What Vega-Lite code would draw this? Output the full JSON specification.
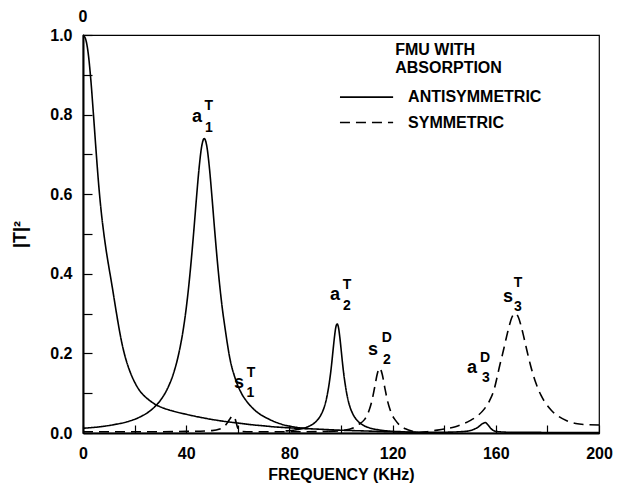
{
  "$schema": "https://vega.github.io/schema/vega-lite/v6.json",
  "width": 516,
  "height": 398,
  "autosize": {"type": "none"},
  "padding": {"left": 83, "top": 35, "right": 18, "bottom": 51},
  "background": "white",
  "config": {
    "view": {"stroke": "black", "strokeWidth": 1.2},
    "font": "Liberation Sans",
    "axis": {
      "domainColor": "black", "domainWidth": 2, "tickColor": "black", "tickWidth": 1.2,
      "labelFont": "Liberation Sans", "labelFontWeight": "bold", "labelFontSize": 16, "labelColor": "black",
      "titleFont": "Liberation Sans", "titleFontWeight": "bold", "titleFontSize": 16, "titleColor": "black",
      "grid": false
    }
  },
  "datasets": {
    "curves": [
      {"series": "A0", "type": "antisymmetric", "f": 0, "t": 1.0},
      {"series": "A0", "type": "antisymmetric", "f": 1, "t": 0.99},
      {"series": "A0", "type": "antisymmetric", "f": 2, "t": 0.955},
      {"series": "A0", "type": "antisymmetric", "f": 3, "t": 0.89},
      {"series": "A0", "type": "antisymmetric", "f": 4, "t": 0.805},
      {"series": "A0", "type": "antisymmetric", "f": 5, "t": 0.715},
      {"series": "A0", "type": "antisymmetric", "f": 6, "t": 0.63},
      {"series": "A0", "type": "antisymmetric", "f": 7, "t": 0.56},
      {"series": "A0", "type": "antisymmetric", "f": 8, "t": 0.505},
      {"series": "A0", "type": "antisymmetric", "f": 9, "t": 0.458},
      {"series": "A0", "type": "antisymmetric", "f": 10, "t": 0.418},
      {"series": "A0", "type": "antisymmetric", "f": 11, "t": 0.38},
      {"series": "A0", "type": "antisymmetric", "f": 12, "t": 0.34},
      {"series": "A0", "type": "antisymmetric", "f": 13, "t": 0.3},
      {"series": "A0", "type": "antisymmetric", "f": 14, "t": 0.262},
      {"series": "A0", "type": "antisymmetric", "f": 15, "t": 0.228},
      {"series": "A0", "type": "antisymmetric", "f": 16, "t": 0.2},
      {"series": "A0", "type": "antisymmetric", "f": 17, "t": 0.177},
      {"series": "A0", "type": "antisymmetric", "f": 18, "t": 0.158},
      {"series": "A0", "type": "antisymmetric", "f": 20, "t": 0.128},
      {"series": "A0", "type": "antisymmetric", "f": 22, "t": 0.106},
      {"series": "A0", "type": "antisymmetric", "f": 25, "t": 0.086},
      {"series": "A0", "type": "antisymmetric", "f": 28, "t": 0.072},
      {"series": "A0", "type": "antisymmetric", "f": 31, "t": 0.063},
      {"series": "A0", "type": "antisymmetric", "f": 35, "t": 0.055},
      {"series": "A0", "type": "antisymmetric", "f": 40, "t": 0.047},
      {"series": "A0", "type": "antisymmetric", "f": 45, "t": 0.04},
      {"series": "A0", "type": "antisymmetric", "f": 50, "t": 0.034},
      {"series": "A0", "type": "antisymmetric", "f": 55, "t": 0.029},
      {"series": "A0", "type": "antisymmetric", "f": 60, "t": 0.025},
      {"series": "A0", "type": "antisymmetric", "f": 65, "t": 0.021},
      {"series": "A0", "type": "antisymmetric", "f": 70, "t": 0.018},
      {"series": "A0", "type": "antisymmetric", "f": 75, "t": 0.015},
      {"series": "A0", "type": "antisymmetric", "f": 80, "t": 0.013},
      {"series": "A0", "type": "antisymmetric", "f": 90, "t": 0.01},
      {"series": "A0", "type": "antisymmetric", "f": 100, "t": 0.007},
      {"series": "A0", "type": "antisymmetric", "f": 110, "t": 0.005},
      {"series": "A0", "type": "antisymmetric", "f": 120, "t": 0.003},
      {"series": "A0", "type": "antisymmetric", "f": 130, "t": 0.002},

      {"series": "A1", "type": "antisymmetric", "f": 0, "t": 0.012},
      {"series": "A1", "type": "antisymmetric", "f": 7, "t": 0.016},
      {"series": "A1", "type": "antisymmetric", "f": 12, "t": 0.021},
      {"series": "A1", "type": "antisymmetric", "f": 17, "t": 0.028},
      {"series": "A1", "type": "antisymmetric", "f": 22, "t": 0.04},
      {"series": "A1", "type": "antisymmetric", "f": 27, "t": 0.061},
      {"series": "A1", "type": "antisymmetric", "f": 30, "t": 0.082},
      {"series": "A1", "type": "antisymmetric", "f": 33, "t": 0.115},
      {"series": "A1", "type": "antisymmetric", "f": 35, "t": 0.148},
      {"series": "A1", "type": "antisymmetric", "f": 37, "t": 0.196},
      {"series": "A1", "type": "antisymmetric", "f": 39, "t": 0.266},
      {"series": "A1", "type": "antisymmetric", "f": 40, "t": 0.313},
      {"series": "A1", "type": "antisymmetric", "f": 41, "t": 0.37},
      {"series": "A1", "type": "antisymmetric", "f": 42, "t": 0.437},
      {"series": "A1", "type": "antisymmetric", "f": 43, "t": 0.512},
      {"series": "A1", "type": "antisymmetric", "f": 44, "t": 0.592},
      {"series": "A1", "type": "antisymmetric", "f": 45, "t": 0.666},
      {"series": "A1", "type": "antisymmetric", "f": 46, "t": 0.72},
      {"series": "A1", "type": "antisymmetric", "f": 47, "t": 0.74},
      {"series": "A1", "type": "antisymmetric", "f": 48, "t": 0.72},
      {"series": "A1", "type": "antisymmetric", "f": 49, "t": 0.666},
      {"series": "A1", "type": "antisymmetric", "f": 50, "t": 0.592},
      {"series": "A1", "type": "antisymmetric", "f": 51, "t": 0.512},
      {"series": "A1", "type": "antisymmetric", "f": 52, "t": 0.437},
      {"series": "A1", "type": "antisymmetric", "f": 53, "t": 0.37},
      {"series": "A1", "type": "antisymmetric", "f": 54, "t": 0.313},
      {"series": "A1", "type": "antisymmetric", "f": 55, "t": 0.266},
      {"series": "A1", "type": "antisymmetric", "f": 57, "t": 0.185},
      {"series": "A1", "type": "antisymmetric", "f": 59, "t": 0.137},
      {"series": "A1", "type": "antisymmetric", "f": 61, "t": 0.105},
      {"series": "A1", "type": "antisymmetric", "f": 64, "t": 0.075},
      {"series": "A1", "type": "antisymmetric", "f": 67, "t": 0.055},
      {"series": "A1", "type": "antisymmetric", "f": 72, "t": 0.035},
      {"series": "A1", "type": "antisymmetric", "f": 77, "t": 0.022},
      {"series": "A1", "type": "antisymmetric", "f": 82, "t": 0.015},
      {"series": "A1", "type": "antisymmetric", "f": 87, "t": 0.011},

      {"series": "A2", "type": "antisymmetric", "f": 78.5, "t": 0.005},
      {"series": "A2", "type": "antisymmetric", "f": 82.5, "t": 0.008},
      {"series": "A2", "type": "antisymmetric", "f": 85.5, "t": 0.012},
      {"series": "A2", "type": "antisymmetric", "f": 88.5, "t": 0.02},
      {"series": "A2", "type": "antisymmetric", "f": 90.5, "t": 0.03},
      {"series": "A2", "type": "antisymmetric", "f": 92.5, "t": 0.049},
      {"series": "A2", "type": "antisymmetric", "f": 93.5, "t": 0.065},
      {"series": "A2", "type": "antisymmetric", "f": 94.5, "t": 0.09},
      {"series": "A2", "type": "antisymmetric", "f": 95.5, "t": 0.128},
      {"series": "A2", "type": "antisymmetric", "f": 96, "t": 0.152},
      {"series": "A2", "type": "antisymmetric", "f": 96.5, "t": 0.181},
      {"series": "A2", "type": "antisymmetric", "f": 97, "t": 0.213},
      {"series": "A2", "type": "antisymmetric", "f": 97.5, "t": 0.243},
      {"series": "A2", "type": "antisymmetric", "f": 98, "t": 0.266},
      {"series": "A2", "type": "antisymmetric", "f": 98.5, "t": 0.274},
      {"series": "A2", "type": "antisymmetric", "f": 99, "t": 0.266},
      {"series": "A2", "type": "antisymmetric", "f": 99.5, "t": 0.243},
      {"series": "A2", "type": "antisymmetric", "f": 100, "t": 0.213},
      {"series": "A2", "type": "antisymmetric", "f": 100.5, "t": 0.181},
      {"series": "A2", "type": "antisymmetric", "f": 101, "t": 0.152},
      {"series": "A2", "type": "antisymmetric", "f": 101.5, "t": 0.128},
      {"series": "A2", "type": "antisymmetric", "f": 102.5, "t": 0.09},
      {"series": "A2", "type": "antisymmetric", "f": 103.5, "t": 0.065},
      {"series": "A2", "type": "antisymmetric", "f": 104.5, "t": 0.049},
      {"series": "A2", "type": "antisymmetric", "f": 106.5, "t": 0.03},
      {"series": "A2", "type": "antisymmetric", "f": 108.5, "t": 0.02},
      {"series": "A2", "type": "antisymmetric", "f": 111.5, "t": 0.012},
      {"series": "A2", "type": "antisymmetric", "f": 114.5, "t": 0.008},
      {"series": "A2", "type": "antisymmetric", "f": 118.5, "t": 0.005},
      {"series": "A2", "type": "antisymmetric", "f": 125, "t": 0.003},

      {"series": "A3", "type": "antisymmetric", "f": 125, "t": 0.002},
      {"series": "A3", "type": "antisymmetric", "f": 140, "t": 0.002},
      {"series": "A3", "type": "antisymmetric", "f": 148, "t": 0.004},
      {"series": "A3", "type": "antisymmetric", "f": 151, "t": 0.008},
      {"series": "A3", "type": "antisymmetric", "f": 153, "t": 0.014},
      {"series": "A3", "type": "antisymmetric", "f": 155, "t": 0.024},
      {"series": "A3", "type": "antisymmetric", "f": 156, "t": 0.026},
      {"series": "A3", "type": "antisymmetric", "f": 157, "t": 0.02},
      {"series": "A3", "type": "antisymmetric", "f": 158, "t": 0.012},
      {"series": "A3", "type": "antisymmetric", "f": 160, "t": 0.004},
      {"series": "A3", "type": "antisymmetric", "f": 165, "t": 0.002},
      {"series": "A3", "type": "antisymmetric", "f": 200, "t": 0.001},

      {"series": "S1", "type": "symmetric", "f": 0, "t": 0.003},
      {"series": "S1", "type": "symmetric", "f": 20, "t": 0.003},
      {"series": "S1", "type": "symmetric", "f": 40, "t": 0.004},
      {"series": "S1", "type": "symmetric", "f": 50, "t": 0.006},
      {"series": "S1", "type": "symmetric", "f": 53, "t": 0.01},
      {"series": "S1", "type": "symmetric", "f": 55, "t": 0.018},
      {"series": "S1", "type": "symmetric", "f": 56, "t": 0.026},
      {"series": "S1", "type": "symmetric", "f": 57, "t": 0.036},
      {"series": "S1", "type": "symmetric", "f": 58, "t": 0.043},
      {"series": "S1", "type": "symmetric", "f": 58.7, "t": 0.04},
      {"series": "S1", "type": "symmetric", "f": 59.3, "t": 0.028},
      {"series": "S1", "type": "symmetric", "f": 60, "t": 0.012},
      {"series": "S1", "type": "symmetric", "f": 61, "t": 0.004},
      {"series": "S1", "type": "symmetric", "f": 65, "t": 0.003},
      {"series": "S1", "type": "symmetric", "f": 80, "t": 0.003},
      {"series": "S1", "type": "symmetric", "f": 95, "t": 0.004},

      {"series": "S2", "type": "symmetric", "f": 95, "t": 0.004},
      {"series": "S2", "type": "symmetric", "f": 100, "t": 0.006},
      {"series": "S2", "type": "symmetric", "f": 105, "t": 0.0135},
      {"series": "S2", "type": "symmetric", "f": 107, "t": 0.022},
      {"series": "S2", "type": "symmetric", "f": 109, "t": 0.033},
      {"series": "S2", "type": "symmetric", "f": 110, "t": 0.043},
      {"series": "S2", "type": "symmetric", "f": 111, "t": 0.059},
      {"series": "S2", "type": "symmetric", "f": 112, "t": 0.0815},
      {"series": "S2", "type": "symmetric", "f": 113, "t": 0.113},
      {"series": "S2", "type": "symmetric", "f": 114, "t": 0.147},
      {"series": "S2", "type": "symmetric", "f": 114.5, "t": 0.158},
      {"series": "S2", "type": "symmetric", "f": 115, "t": 0.163},
      {"series": "S2", "type": "symmetric", "f": 115.5, "t": 0.158},
      {"series": "S2", "type": "symmetric", "f": 116, "t": 0.147},
      {"series": "S2", "type": "symmetric", "f": 117, "t": 0.113},
      {"series": "S2", "type": "symmetric", "f": 118, "t": 0.0815},
      {"series": "S2", "type": "symmetric", "f": 119, "t": 0.059},
      {"series": "S2", "type": "symmetric", "f": 120, "t": 0.043},
      {"series": "S2", "type": "symmetric", "f": 121, "t": 0.033},
      {"series": "S2", "type": "symmetric", "f": 123, "t": 0.018},
      {"series": "S2", "type": "symmetric", "f": 125, "t": 0.0105},
      {"series": "S2", "type": "symmetric", "f": 128, "t": 0.004},
      {"series": "S2", "type": "symmetric", "f": 130, "t": 0.001},

      {"series": "S3", "type": "symmetric", "f": 130, "t": 0.001},
      {"series": "S3", "type": "symmetric", "f": 133, "t": 0.003},
      {"series": "S3", "type": "symmetric", "f": 136, "t": 0.006},
      {"series": "S3", "type": "symmetric", "f": 140, "t": 0.01},
      {"series": "S3", "type": "symmetric", "f": 144, "t": 0.015},
      {"series": "S3", "type": "symmetric", "f": 147, "t": 0.022},
      {"series": "S3", "type": "symmetric", "f": 150, "t": 0.031},
      {"series": "S3", "type": "symmetric", "f": 152.5, "t": 0.041},
      {"series": "S3", "type": "symmetric", "f": 155.5, "t": 0.06},
      {"series": "S3", "type": "symmetric", "f": 157.5, "t": 0.08},
      {"series": "S3", "type": "symmetric", "f": 159.5, "t": 0.113},
      {"series": "S3", "type": "symmetric", "f": 160.5, "t": 0.14},
      {"series": "S3", "type": "symmetric", "f": 161.5, "t": 0.169},
      {"series": "S3", "type": "symmetric", "f": 162.5, "t": 0.195},
      {"series": "S3", "type": "symmetric", "f": 163.5, "t": 0.223},
      {"series": "S3", "type": "symmetric", "f": 164.5, "t": 0.251},
      {"series": "S3", "type": "symmetric", "f": 165.5, "t": 0.276},
      {"series": "S3", "type": "symmetric", "f": 166.5, "t": 0.294},
      {"series": "S3", "type": "symmetric", "f": 167.5, "t": 0.3},
      {"series": "S3", "type": "symmetric", "f": 168.5, "t": 0.294},
      {"series": "S3", "type": "symmetric", "f": 169.5, "t": 0.276},
      {"series": "S3", "type": "symmetric", "f": 170.5, "t": 0.251},
      {"series": "S3", "type": "symmetric", "f": 171.5, "t": 0.223},
      {"series": "S3", "type": "symmetric", "f": 172.5, "t": 0.195},
      {"series": "S3", "type": "symmetric", "f": 173.5, "t": 0.169},
      {"series": "S3", "type": "symmetric", "f": 174.5, "t": 0.146},
      {"series": "S3", "type": "symmetric", "f": 175.5, "t": 0.126},
      {"series": "S3", "type": "symmetric", "f": 177.5, "t": 0.095},
      {"series": "S3", "type": "symmetric", "f": 179.5, "t": 0.073},
      {"series": "S3", "type": "symmetric", "f": 181.5, "t": 0.057},
      {"series": "S3", "type": "symmetric", "f": 184.5, "t": 0.041},
      {"series": "S3", "type": "symmetric", "f": 187.5, "t": 0.031},
      {"series": "S3", "type": "symmetric", "f": 191, "t": 0.024},
      {"series": "S3", "type": "symmetric", "f": 195, "t": 0.021},
      {"series": "S3", "type": "symmetric", "f": 200, "t": 0.02}
    ],
    "labels": [
      {"text": "0", "f": 0, "t": 1.045, "size": 16},
      {"text": "a", "f": 44.2, "t": 0.794, "size": 18},
      {"text": "T", "f": 48.8, "t": 0.822, "size": 14},
      {"text": "1", "f": 48.8, "t": 0.766, "size": 14},
      {"text": "a", "f": 97.7, "t": 0.347, "size": 18},
      {"text": "T", "f": 102.3, "t": 0.372, "size": 14},
      {"text": "2", "f": 102.3, "t": 0.319, "size": 14},
      {"text": "s", "f": 60.5, "t": 0.126, "size": 18},
      {"text": "T", "f": 65.1, "t": 0.151, "size": 14},
      {"text": "1", "f": 64.9, "t": 0.1, "size": 14},
      {"text": "s", "f": 112.4, "t": 0.209, "size": 18},
      {"text": "D", "f": 117.8, "t": 0.239, "size": 14},
      {"text": "2", "f": 117.8, "t": 0.183, "size": 14},
      {"text": "a", "f": 150.8, "t": 0.163, "size": 18},
      {"text": "D", "f": 155.8, "t": 0.188, "size": 14},
      {"text": "3", "f": 156.2, "t": 0.138, "size": 14},
      {"text": "s", "f": 164.7, "t": 0.342, "size": 18},
      {"text": "T", "f": 168.6, "t": 0.377, "size": 14},
      {"text": "3", "f": 168.6, "t": 0.317, "size": 14}
    ],
    "legendText": [
      {"text": "FMU WITH", "f": 121, "t": 0.962},
      {"text": "ABSORPTION", "f": 121, "t": 0.917},
      {"text": "ANTISYMMETRIC", "f": 126, "t": 0.844},
      {"text": "SYMMETRIC", "f": 126, "t": 0.78}
    ],
    "legendLines": [
      {"type": "antisymmetric", "f": 99.6, "f2": 120.2, "t": 0.844},
      {"type": "symmetric", "f": 99.6, "f2": 120.2, "t": 0.78}
    ]
  },
  "encoding": {
    "x": {
      "field": "f", "type": "quantitative",
      "scale": {"domain": [0, 200], "nice": false, "zero": false},
      "axis": {
        "title": "FREQUENCY (KHz)",
        "values": [0, 20, 40, 60, 80, 100, 120, 140, 160, 180, 200],
        "labelExpr": "datum.value % 40 == 0 ? datum.label : ''",
        "tickSize": -8, "labelPadding": 20, "titlePadding": 5,
        "labelFlush": false, "labelOverlap": false
      }
    },
    "y": {
      "field": "t", "type": "quantitative",
      "scale": {"domain": [0, 1], "nice": false, "zero": false},
      "axis": {
        "title": "|T|²",
        "titleFontSize": 18,
        "values": [0, 0.1, 0.2, 0.3, 0.4, 0.5, 0.6, 0.7, 0.8, 0.9, 1.0],
        "labelExpr": "round(datum.value * 10) % 2 == 0 ? format(datum.value, '.1f') : ''",
        "tickSize": -9, "labelPadding": 20, "titlePadding": 20,
        "labelFlush": false, "labelOverlap": false
      }
    }
  },
  "layer": [
    {
      "data": {"name": "curves"},
      "mark": {"type": "line", "color": "black", "strokeWidth": 1.6, "interpolate": "monotone"},
      "encoding": {
        "detail": {"field": "series"},
        "strokeDash": {
          "field": "type", "type": "nominal",
          "scale": {"domain": ["antisymmetric", "symmetric"], "range": [[1, 0], [10, 6]]},
          "legend": null
        }
      }
    },
    {
      "data": {"name": "legendLines"},
      "mark": {"type": "rule", "color": "black", "strokeWidth": 1.6},
      "encoding": {
        "x2": {"field": "f2"},
        "strokeDash": {
          "field": "type", "type": "nominal",
          "scale": {"domain": ["antisymmetric", "symmetric"], "range": [[1, 0], [10, 6]]},
          "legend": null
        }
      }
    },
    {
      "data": {"name": "legendText"},
      "mark": {"type": "text", "align": "left", "baseline": "middle", "fontSize": 16, "fontWeight": "bold", "font": "Liberation Sans", "color": "black"},
      "encoding": {"text": {"field": "text"}}
    },
    {
      "data": {"name": "labels"},
      "mark": {"type": "text", "align": "center", "baseline": "middle", "fontWeight": "bold", "font": "Liberation Sans", "color": "black"},
      "encoding": {
        "text": {"field": "text"},
        "size": {"field": "size", "type": "quantitative", "scale": null}
      }
    }
  ]
}
